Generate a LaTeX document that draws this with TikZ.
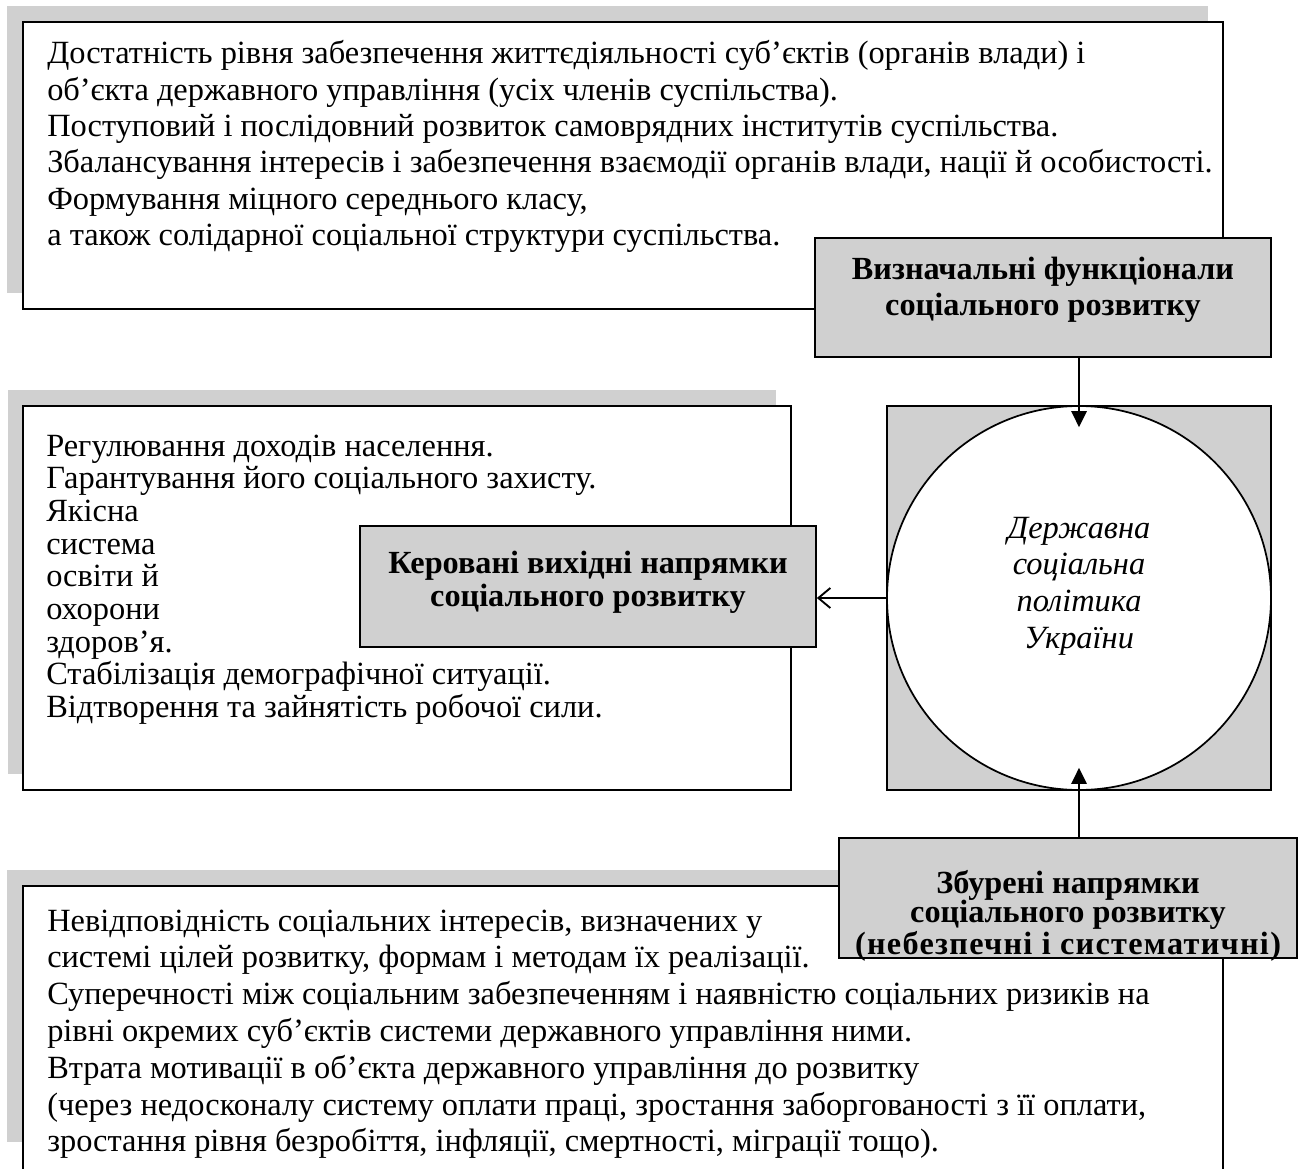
\documentclass[tikz,border=0pt]{standalone}
\usepackage{fontspec}
\setmainfont{Liberation Serif}
\usetikzlibrary{arrows.meta,fit}
\definecolor{boxgray}{RGB}{208,208,208}
\begin{document}
\begin{tikzpicture}[x=0.75pt,y=-0.75pt,
  shadowbox/.style={fill=boxgray},
  whitebox/.style={draw=black, fill=white, line width=1.3pt, inner sep=0pt},
  graybox/.style={draw=black, fill=boxgray, line width=1.3pt, inner sep=0pt},
  bodytext/.style={anchor=base west, inner sep=0pt},
  boldtext/.style={anchor=base, inner sep=0pt, font=\bfseries},
  ittext/.style={anchor=base, inner sep=0pt, font=\itshape},
  arrline/.style={line width=1.4pt},
]
\clip (0,0) rectangle (1298,1169);
\useasboundingbox (0,0) rectangle (1298,1169);

% top block
\fill[shadowbox] (7,6) rectangle (1208,293);
\node[whitebox, fit={(23,22) (1223,309)}] (topbox) {};
\node[bodytext] (toptext) at (47,64) {\parbox[t]{950pt}{\fontsize{24.3}{27.2}\selectfont
Достатність рівня забезпечення життєдіяльності суб’єктів (органів влади) і\\
об’єкта державного управління (усіх членів суспільства).\\
Поступовий і послідовний розвиток самоврядних інститутів суспільства.\\
Збалансування інтересів і забезпечення взаємодії органів влади, нації й особистості.\\
Формування міцного середнього класу,\\
а також солідарної соціальної структури суспільства.}};

% middle block
\fill[shadowbox] (8,390) rectangle (776,774);
\node[whitebox, fit={(23,406) (791,790)}] (midbox) {};
\node[bodytext] (midtext) at (46,456) {\parbox[t]{700pt}{\fontsize{24.3}{24.5}\selectfont
Регулювання доходів населення.\\
Гарантування його соціального захисту.\\
Якісна\\
система\\
освіти й\\
охорони\\
здоров’я.\\
Стабілізація демографічної ситуації.\\
Відтворення та зайнятість робочої сили.}};

% bottom block
\fill[shadowbox] (7,870) rectangle (1208,1142);
\node[whitebox, fit={(23,886) (1223,1220)}] (botbox) {};
\node[bodytext] (bottext) at (47,931) {\parbox[t]{950pt}{\fontsize{24.3}{27.6}\selectfont
Невідповідність соціальних інтересів, визначених у\\
системі цілей розвитку, формам і методам їх реалізації.\\
Суперечності між соціальним забезпеченням і наявністю соціальних ризиків на\\
рівні окремих суб’єктів системи державного управління ними.\\
Втрата мотивації в об’єкта державного управління до розвитку\\
(через недосконалу систему оплати праці, зростання заборгованості з її оплати,\\
зростання рівня безробіття, інфляції, смертності, міграції тощо).}};

% policy circle
\node[graybox, fit={(887,406) (1271,790)}] (polbox) {};
\node[draw=black, fill=white, circle, line width=1.3pt, inner sep=0pt, minimum size=288pt] (pol) at (1079,598) {};
\node[ittext] (poltext) at (1079,538) {\parbox[t]{200pt}{\centering\fontsize{24.3}{27.5}\selectfont
Державна\\соціальна\\політика\\України}};

% gray label boxes
\node[graybox, fit={(815,238) (1271,357)}] (defbox) {};
\node[boldtext] (deftext) at (1043,280) {\parbox[t]{340pt}{\centering\fontsize{24.2}{27}\selectfont
Визначальні функціонали\\соціального розвитку}};

\node[graybox, fit={(360,526) (816,647)}] (ctrlbox) {};
\node[boldtext] (ctrltext) at (588,573) {\parbox[t]{340pt}{\centering\fontsize{24.2}{25}\selectfont
Керовані вихідні напрямки\\соціального розвитку}};

\node[graybox, fit={(839,838) (1297,958)}] (distbox) {};
\node[boldtext] (disttext) at (1068,893) {\parbox[t]{340pt}{\centering\fontsize{24.2}{22.3}\selectfont
Збурені напрямки\\соціального розвитку\\{\addfontfeature{LetterSpace=4}(небезпечні і систематичні)}}};

% connectors
\draw[arrline, -{Triangle[length=12pt,width=11.5pt]}] (pol.north |- defbox.south) -- ([yshift=-16.5pt]pol.north);
\draw[arrline, -{Straight Barb[length=9pt,width=15pt,line width=1.4pt]}] (pol.west) -- (pol.west -| ctrlbox.east);
\draw[arrline, -{Triangle[length=12pt,width=11.5pt]}] (pol.south |- distbox.north) -- ([yshift=17.25pt]pol.south);
\end{tikzpicture}
\end{document}
